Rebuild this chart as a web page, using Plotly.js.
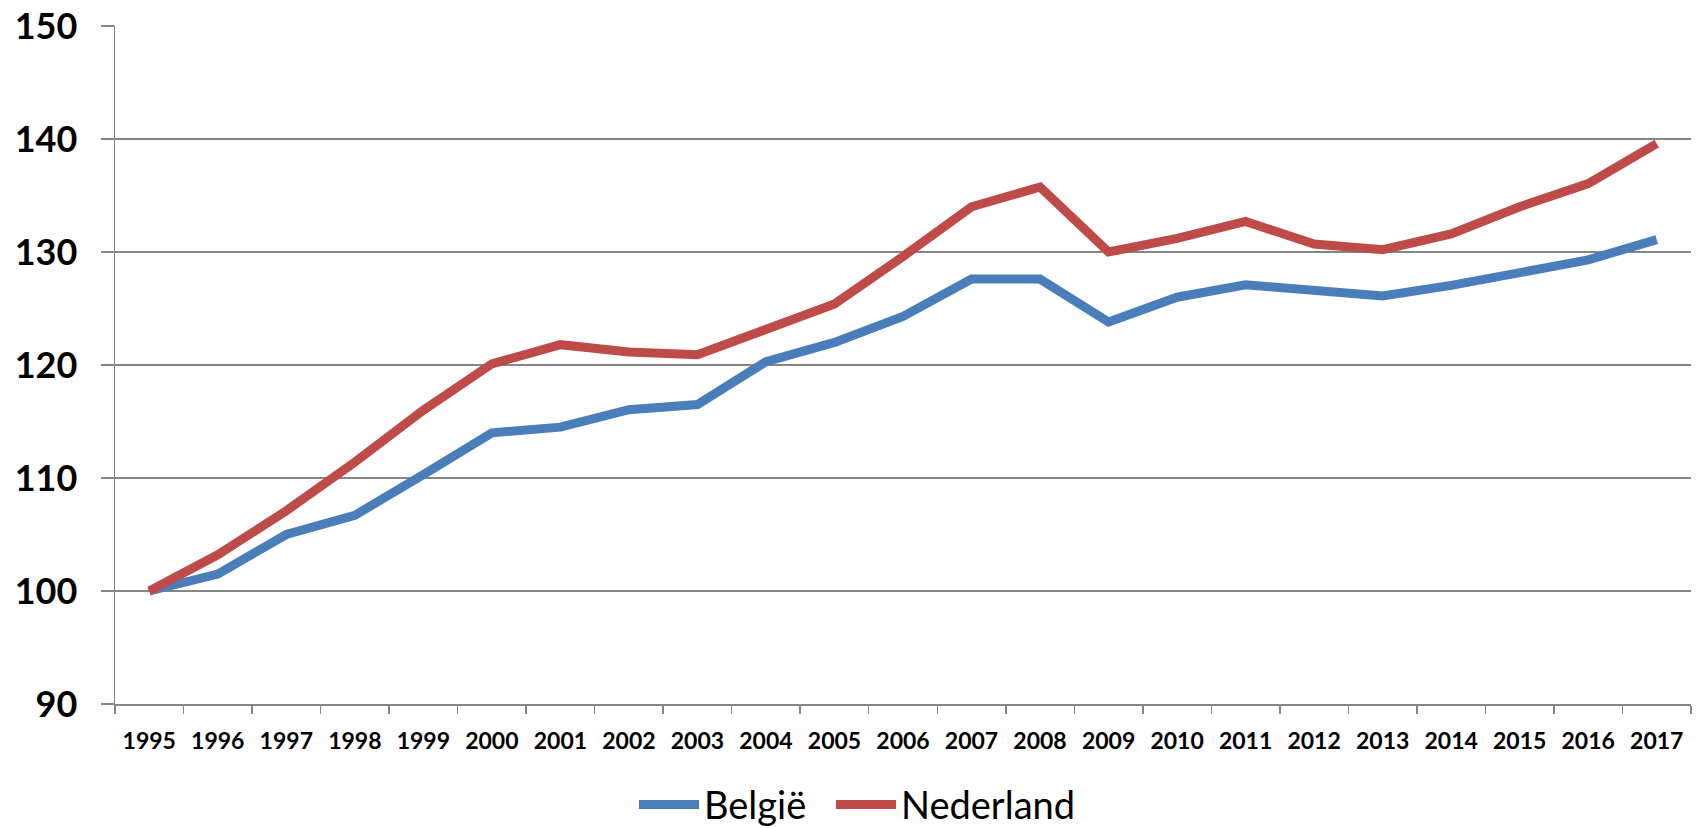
<!DOCTYPE html>
<html>
<head>
<meta charset="utf-8">
<script src="https://cdn.plot.ly/plotly-3.0.1.min.js"></script>
<style>html,body{margin:0;padding:0;background:#fff;}#chart{width:1700px;height:828px;}</style>
</head>
<body>
<div id="chart"></div>
<script>
const years = ["1995","1996","1997","1998","1999","2000","2001","2002","2003","2004","2005","2006","2007","2008","2009","2010","2011","2012","2013","2014","2015","2016","2017"];
const belgie = [100,101.5,105.0,106.7,110.3,114.0,114.5,116.05,116.5,120.3,122.0,124.3,127.6,127.6,123.8,126.0,127.1,126.6,126.1,127.05,128.1,129.3,131.1];
const nederland = [100,103.2,107.1,111.4,116.0,120.1,121.8,121.15,120.9,123.1,125.4,129.6,134.0,135.75,130.0,131.2,132.7,130.7,130.2,131.6,134.0,136.05,139.6];
const yTicks = [90,100,110,120,130,140,150];

const FONT = "Lato, 'Liberation Sans', Arial, sans-serif";
const GRID = "#868686";

const traces = [
  {x: years, y: belgie, name: "België", type: "scatter", mode: "lines", legend: "legend",
   line: {color: "#4A7EBB", width: 9}},
  {x: years, y: nederland, name: "Nederland", type: "scatter", mode: "lines", legend: "legend2",
   line: {color: "#BE4B48", width: 9}}
];

const legendBase = {orientation: "h", xref: "container", yref: "container", xanchor: "left",
  y: 0.028, yanchor: "middle", font: {size: 38, family: FONT, color: "#000"},
  itemwidth: 60, bgcolor: "rgba(0,0,0,0)", borderwidth: 0};

const layout = {
  width: 1700, height: 828,
  paper_bgcolor: "#fff", plot_bgcolor: "#fff",
  margin: {l: 115, r: 9, t: 26, b: 124, pad: 0},
  font: {family: FONT, color: "#000"},
  showlegend: true,
  legend: Object.assign({}, legendBase, {x: 634 / 1700}),
  legend2: Object.assign({}, legendBase, {x: 831 / 1700}),
  xaxis: {type: "category", tickvals: years, ticktext: years, range: [-0.5, 22.5],
          showgrid: false, zeroline: false, showline: true, linecolor: GRID, linewidth: 1.5,
          ticks: "outside", tickson: "boundaries", ticklen: 8, tickcolor: GRID, tickwidth: 1.5,
          tickfont: {size: 23, family: FONT, weight: "bold", color: "#000"},
          ticklabelstandoff: 16, fixedrange: true},
  yaxis: {range: [90, 150], tickvals: yTicks, ticktext: yTicks.map(String),
          showgrid: true, gridcolor: GRID, gridwidth: 1.5, zeroline: false,
          showline: true, linecolor: GRID, linewidth: 1.5,
          ticks: "outside", ticklen: 13, tickcolor: GRID, tickwidth: 1.5,
          tickfont: {size: 36, family: FONT, weight: "bold", color: "#000"},
          ticklabelstandoff: 16, fixedrange: true}
};

Plotly.newPlot("chart", traces, layout, {displayModeBar: false, staticPlot: true});
</script>
</body>
</html>
